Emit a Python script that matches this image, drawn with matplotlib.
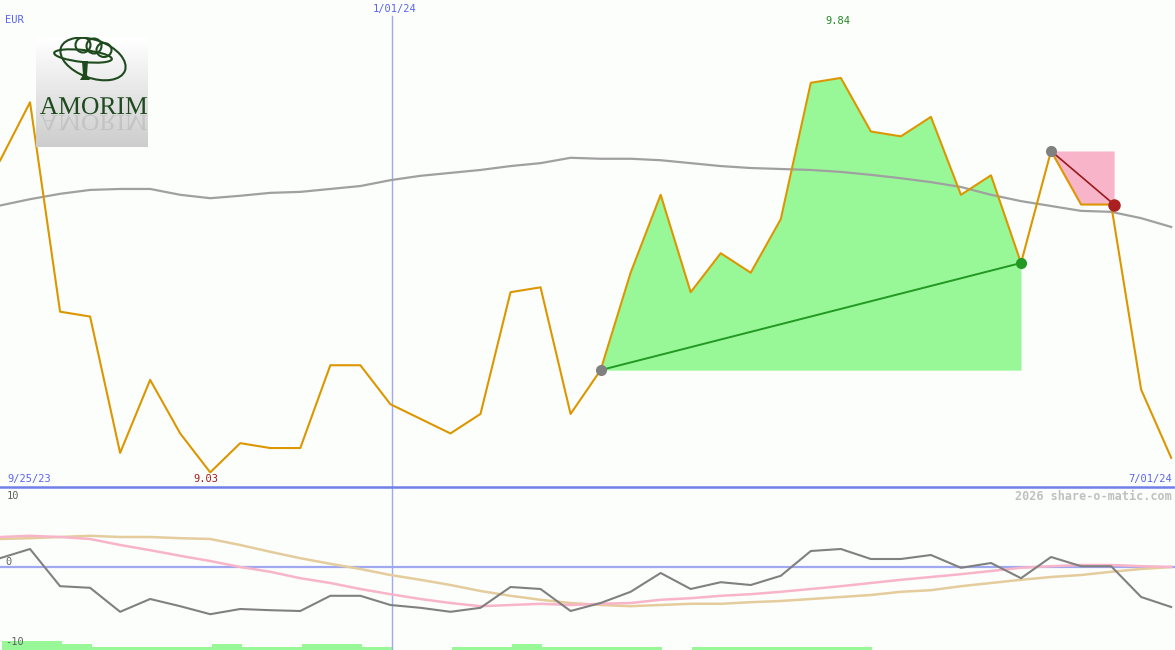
import matplotlib
matplotlib.use("Agg")
import matplotlib.pyplot as plt
import numpy as np
from matplotlib.lines import Line2D
from matplotlib.patches import Ellipse, PathPatch
from matplotlib.textpath import TextPath
from matplotlib.font_manager import FontProperties
from matplotlib.transforms import Affine2D

# weekly closes, Amorim (EUR), 10/02/23 .. 7/01/24
price = [9.67, 9.79, 9.36, 9.35, 9.07, 9.22, 9.11, 9.03, 9.09, 9.08,
         9.08, 9.25, 9.25, 9.17, 9.14, 9.11, 9.15, 9.40, 9.41, 9.15,
         9.24, 9.44, 9.60, 9.40, 9.48, 9.44, 9.55, 9.83, 9.84, 9.73,
         9.72, 9.76, 9.60, 9.64, 9.46, 9.69, 9.58, 9.58, 9.20, 9.06]
ma = [9.578, 9.591, 9.602, 9.610, 9.612, 9.612, 9.600, 9.593, 9.598, 9.604,
      9.606, 9.612, 9.618, 9.630, 9.639, 9.645, 9.651, 9.659, 9.665, 9.676,
      9.674, 9.674, 9.671, 9.665, 9.659, 9.655, 9.653, 9.651, 9.647, 9.641,
      9.634, 9.626, 9.616, 9.600, 9.587, 9.577, 9.567, 9.565, 9.552, 9.534]

# oscillator panel
osc = [1.1, 2.25, -2.4, -2.6, -5.6, -4.0, -4.9, -5.9, -5.25, -5.4,
       -5.5, -3.6, -3.6, -4.75, -5.1, -5.6, -5.1, -2.5, -2.75, -5.5,
       -4.5, -3.1, -0.75, -2.75, -1.9, -2.25, -1.1, 2.0, 2.25, 1.0,
       1.0, 1.5, -0.1, 0.5, -1.4, 1.25, 0.1, 0.1, -3.75, -5.0]
osc_fast = [3.75, 3.9, 3.75, 3.5, 2.75, 2.1, 1.4, 0.75, 0.0, -0.6,
            -1.4, -2.0, -2.75, -3.4, -4.0, -4.5, -4.9, -4.75, -4.6, -4.75,
            -4.6, -4.5, -4.1, -3.9, -3.6, -3.4, -3.1, -2.75, -2.4, -2.0,
            -1.6, -1.25, -0.9, -0.5, -0.1, 0.1, 0.25, 0.25, 0.1, 0.0]
osc_slow = [3.5, 3.6, 3.75, 3.9, 3.75, 3.75, 3.6, 3.5, 2.75, 1.9,
            1.1, 0.4, -0.25, -1.0, -1.6, -2.25, -3.0, -3.6, -4.1, -4.5,
            -4.75, -4.9, -4.75, -4.6, -4.6, -4.4, -4.25, -4.0, -3.75, -3.5,
            -3.1, -2.9, -2.4, -2.0, -1.6, -1.25, -1.0, -0.6, -0.25, 0.0]
signal = [3, 3, 2, 1, 1, 1, 1, 2, 1, 1,
          2, 2, 1, 0, 0, 1, 1, 2, 1, 1,
          1, 1, 0, 1, 1, 1, 1, 1, 1, 0,
          0, 0, 0, 0, 0, 0, 0, 0, 0, 0]

up_start, up_end = 20, 34
dn_start, dn_end = 35, 37

W, H = 1175, 650
bg = "#fcfefc"
mono = "DejaVu Sans Mono"
step = 30.03
x = np.arange(len(price))
xmax = W / step

fig = plt.figure(figsize=(W / 100, H / 100), dpi=100, facecolor=bg)

def fx(px):
    return px / W

def fy(py):
    return 1 - py / H

# main price panel
ax = fig.add_axes([0, fy(487), 1, 487 / H])
ax.set_facecolor(bg)
ax.set_xlim(0, xmax)
ax.set_ylim(9.0, 10.0)
ax.axis("off")

ax.axvline(13.05, ymax=1 - 16 / 487, color="#a0a8f0", lw=1)

xs = x[up_start:up_end + 1]
ps = np.array(price[up_start:up_end + 1])
ax.fill_between(xs, ps, price[up_start], color="#98f898", lw=0)
xs2 = x[dn_start:dn_end + 1]
ps2 = np.array(price[dn_start:dn_end + 1])
ax.fill_between(xs2 + np.array([0, 0, 0.1]), ps2, price[dn_start], color="#f8b4c8", lw=0)

ax.plot(x, ma, color="#a0a0a0", lw=1.6)
ax.plot(x, price, color="#dc9600", lw=1.5)
ax.plot([up_start, up_end], [price[up_start], price[up_end]], color="#229922", lw=1.4)
ax.plot([dn_start, dn_end + 0.1], [price[dn_start], price[dn_end]], color="#991a1a", lw=1.2)
ax.plot([up_start], [price[up_start]], "o", color="#808080", ms=8, mew=0)
ax.plot([up_end], [price[up_end]], "o", color="#229922", ms=8, mew=0)
ax.plot([dn_start], [price[dn_start]], "o", color="#808080", ms=8, mew=0)
ax.plot([dn_end + 0.1], [price[dn_end]], "o", color="#aa2020", ms=9, mew=0)

# lower oscillator panel
lo = fig.add_axes([0, 0, 1, 163 / H])
lo.set_facecolor(bg)
lo.set_xlim(0, xmax)
ybot = 10 - 163 / 8
lo.set_ylim(ybot, 10)
lo.axis("off")
lo.axvline(13.05, color="#a0a8f0", lw=1)
lo.bar(x + 0.05, np.array(signal) * 0.375, width=1.0, bottom=ybot, align="edge",
       color="#98f898", lw=0)
lo.axhline(0, color="#a0a8f0", lw=1.6)
lo.plot(x, osc_slow, color="#e4cc9c", lw=1.8)
lo.plot(x, osc_fast, color="#f8b4c8", lw=1.8)
lo.plot(x, osc, color="#808080", lw=1.5)

fig.add_artist(Line2D([0, 1], [fy(487), fy(487)], color="#7080e8", lw=1.8))

# labels
def label(px, py, s, color, ha="left", size=7.5, **kw):
    fig.text(fx(px), fy(py), s, color=color, ha=ha, va="center",
             family=mono, fontsize=size, **kw)

label(5, 20, "EUR", "#5a64f0")
label(395, 9, "1/01/24", "#5a64f0", ha="center")
label(838, 21, "9.84", "#228822", ha="center")
label(206, 479, "9.03", "#a01c1c", ha="center")
label(7, 479, "9/25/23", "#5a64f0")
label(1172, 479, "7/01/24", "#5a64f0", ha="right")
label(1172, 496, "2026 share-o-matic.com", "#c0c0c0", ha="right", size=8.5,
      weight="bold")
label(7, 496, "10", "#606060")
label(5, 562, "0", "#606060")
label(5, 642, "-10", "#606060")

# Amorim logo (pixel coordinates inside the box, y downwards)
lg = fig.add_axes([fx(36), fy(147), 112 / W, 110 / H])
lg.set_xlim(0, 112)
lg.set_ylim(110, 0)
lg.axis("off")
grad = np.linspace(1.0, 0.8, 110)[:, None] * np.ones((1, 112))
lg.imshow(grad, cmap="gray", vmin=0, vmax=1, extent=[0, 112, 110, 0], aspect="auto")
dg = "#1e4a1e"
for cx, cy, w, h, a in [(57, 22, 68, 38, 20), (47, 19, 58, 12, 6),
                        (47, 8, 15, 15, 0), (58, 9, 15, 15, 0), (68, 13, 15, 14, 0)]:
    lg.add_patch(Ellipse((cx, cy), w, h, angle=a, fill=False, ec=dg, lw=1.5))
lg.fill([46, 52, 51, 54, 44, 47], [24, 24, 38, 43, 43, 38], color=dg, lw=0)

tp = TextPath((0, 0), "AMORIM", size=25, prop=FontProperties(family="Liberation Serif"))
ext = tp.get_extents()
sc = 107 / ext.width
word = Affine2D().translate(-ext.x0, 0).scale(sc, -sc).translate(4, 77)
lg.add_patch(PathPatch(tp, transform=word + lg.transData, color=dg, lw=0))
mirror = Affine2D().translate(-ext.x0, 0).scale(sc, sc * 0.9).translate(4, 78)
lg.add_patch(PathPatch(tp, transform=mirror + lg.transData, color="#b4b4b4",
                       alpha=0.55, lw=0))

fig.savefig("out.png", dpi=100, facecolor=bg)
